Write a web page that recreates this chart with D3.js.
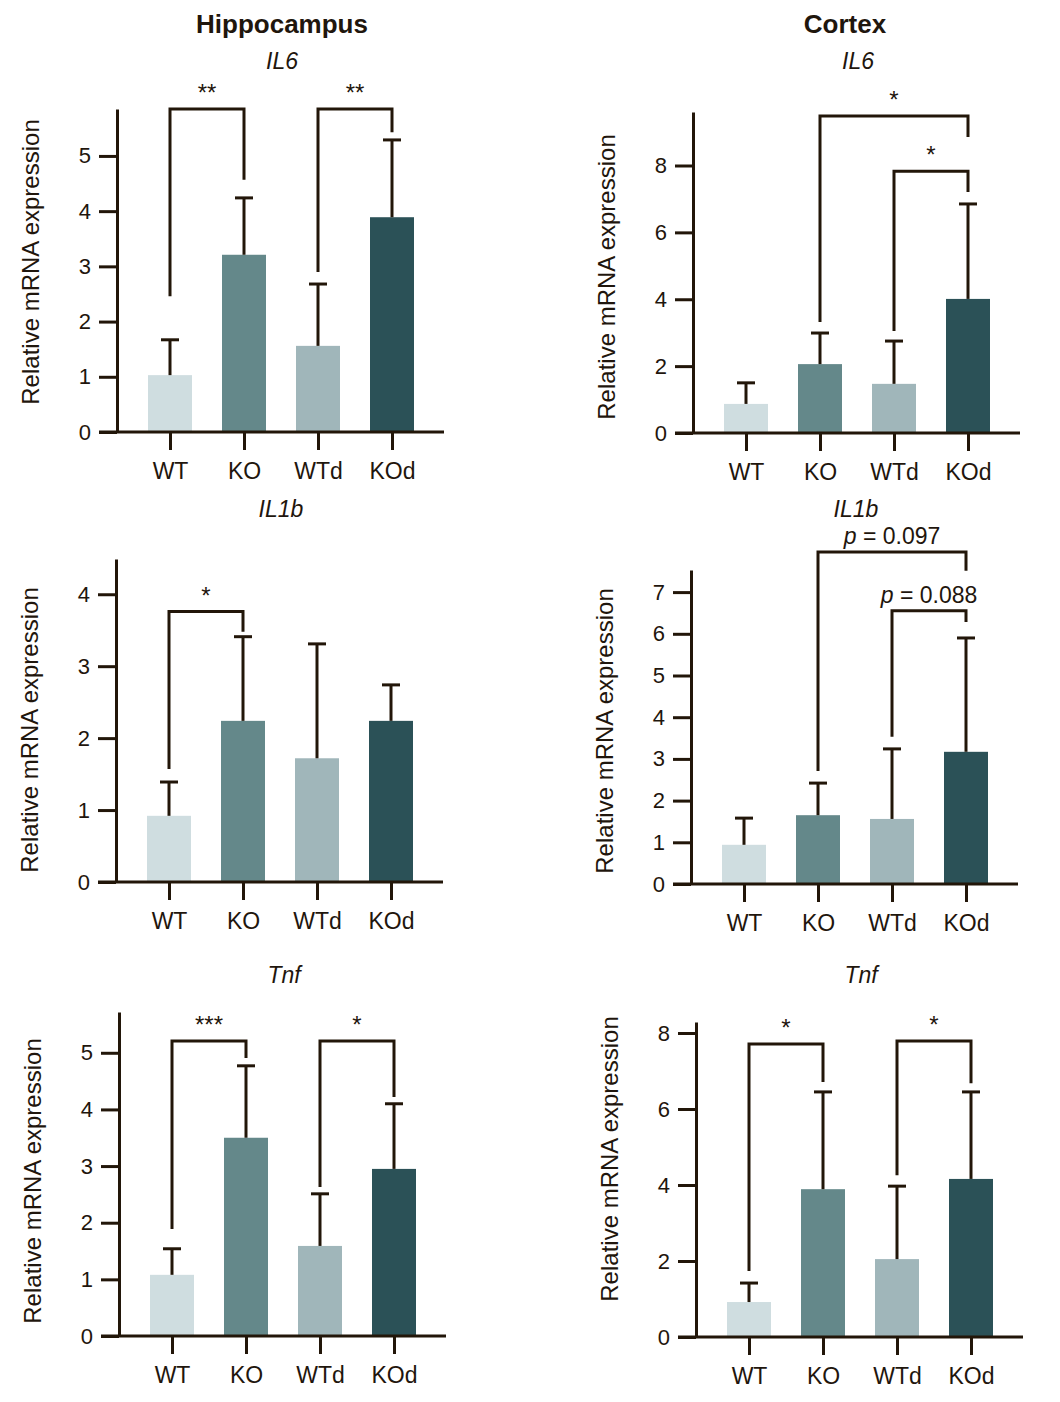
<!DOCTYPE html>
<html>
<head>
<meta charset="utf-8">
<script src="https://cdn.jsdelivr.net/npm/d3@7"></script>
<style>
  body { margin: 0; background: #fff; }
  text { font-family: "Liberation Sans", Arial, Helvetica, sans-serif; fill: #1f160d; }
</style>
</head>
<body>
<div id="main"></div>
<script>
// groups and regions
const groups = ['WT', 'KO', 'WTd', 'KOd'];
const regions = ['Hippocampus', 'Cortex'];
const genes = ['IL6', 'IL1b', 'Tnf'];

// mean and SD (upper error bar) per panel
const hipIL6Mean = [1.03, 3.21, 1.56, 3.89];
const hipIL6Sd = [0.64, 1.03, 1.12, 1.40];
const ctxIL6Mean = [0.87, 2.06, 1.47, 4.01];
const ctxIL6Sd = [0.63, 0.93, 1.28, 2.84];
const hipIL1bMean = [0.92, 2.24, 1.72, 2.24];
const hipIL1bSd = [0.47, 1.17, 1.59, 0.50];
const ctxIL1bMean = [0.94, 1.65, 1.56, 3.17];
const ctxIL1bSd = [0.64, 0.77, 1.68, 2.73];
const hipTnfMean = [1.08, 3.50, 1.59, 2.95];
const hipTnfSd = [0.46, 1.27, 0.92, 1.15];
const ctxTnfMean = [0.92, 3.89, 2.05, 4.16];
const ctxTnfSd = [0.50, 2.56, 1.92, 2.29];

// y axis max and ticks per panel
const hipIL6Ticks = [0, 1, 2, 3, 4, 5];
const ctxIL6Ticks = [0, 2, 4, 6, 8];
const hipIL1bTicks = [0, 1, 2, 3, 4];
const ctxIL1bTicks = [0, 1, 2, 3, 4, 5, 6, 7];
const hipTnfTicks = [0, 1, 2, 3, 4, 5];
const ctxTnfTicks = [0, 2, 4, 6, 8];
const yMaxes = [5.85, 9.6, 4.49, 7.53, 5.72, 8.29];

// significance brackets: from/to group, bracket top, left and right leg ends (data units)
const hipIL6Brackets = [
  { from: 'WT', to: 'KO', top: 5.85, left: 2.46, right: 4.57, label: '**' },
  { from: 'WTd', to: 'KOd', top: 5.85, left: 2.90, right: 5.43, label: '**' }
];
const ctxIL6Brackets = [
  { from: 'KO', to: 'KOd', top: 9.48, left: 3.32, right: 8.85, label: '*' },
  { from: 'WTd', to: 'KOd', top: 7.83, left: 3.05, right: 7.21, label: '*' }
];
const hipIL1bBrackets = [
  { from: 'WT', to: 'KO', top: 3.76, left: 1.57, right: 3.48, label: '*' }
];
const ctxIL1bBrackets = [
  { from: 'KO', to: 'KOd', top: 7.96, left: 2.71, right: 7.51, p: '0.097' },
  { from: 'WTd', to: 'KOd', top: 6.55, left: 3.53, right: 6.28, p: '0.088' }
];
const hipTnfBrackets = [
  { from: 'WT', to: 'KO', top: 5.21, left: 1.89, right: 4.91, label: '***' },
  { from: 'WTd', to: 'KOd', top: 5.21, left: 2.63, right: 4.22, label: '*' }
];
const ctxTnfBrackets = [
  { from: 'WT', to: 'KO', top: 7.71, left: 1.74, right: 6.71, label: '*' },
  { from: 'WTd', to: 'KOd', top: 7.79, left: 4.26, right: 6.68, label: '*' }
];

const colors = ['#cfdde0', '#64888a', '#a0b6ba', '#2b5157'];
const ink = '#221609';

// panel placement on the page
const layout = [
  { axisX: 117, zeroY: 432, topY: 109, labelY: 262 },
  { axisX: 693, zeroY: 433, topY: 112, labelY: 277 },
  { axisX: 116, zeroY: 882, topY: 559, labelY: 730 },
  { axisX: 691, zeroY: 884, topY: 570, labelY: 731 },
  { axisX: 119, zeroY: 1336, topY: 1012, labelY: 1181 },
  { axisX: 696, zeroY: 1337, topY: 1022, labelY: 1159 }
];
const titleY = [69, 517, 983];

const panels = [
  { gene: genes[0], mean: hipIL6Mean, sd: hipIL6Sd, ticks: hipIL6Ticks, brackets: hipIL6Brackets },
  { gene: genes[0], mean: ctxIL6Mean, sd: ctxIL6Sd, ticks: ctxIL6Ticks, brackets: ctxIL6Brackets },
  { gene: genes[1], mean: hipIL1bMean, sd: hipIL1bSd, ticks: hipIL1bTicks, brackets: hipIL1bBrackets },
  { gene: genes[1], mean: ctxIL1bMean, sd: ctxIL1bSd, ticks: ctxIL1bTicks, brackets: ctxIL1bBrackets },
  { gene: genes[2], mean: hipTnfMean, sd: hipTnfSd, ticks: hipTnfTicks, brackets: hipTnfBrackets },
  { gene: genes[2], mean: ctxTnfMean, sd: ctxTnfSd, ticks: ctxTnfTicks, brackets: ctxTnfBrackets }
];

const svg = d3.select('#main')
  .append('svg')
  .attr('width', 1060)
  .attr('height', 1402);

// region headers
svg.selectAll('text.region')
  .data(regions)
  .join('text')
  .attr('class', 'region')
  .attr('x', (d, i) => i === 0 ? 282 : 845)
  .attr('y', 33)
  .attr('text-anchor', 'middle')
  .attr('font-size', 26)
  .attr('font-weight', 'bold')
  .text(d => d);

const barW = 44;

function drawPanel(panel, i) {
  const L = layout[i];
  const g = svg.append('g');
  const y = d3.scaleLinear().domain([0, yMaxes[i]]).range([L.zeroY, L.topY]);
  const x = d3.scalePoint().domain(groups).range([L.axisX + 53, L.axisX + 275]);

  // gene title
  g.append('text')
    .attr('x', L.axisX + 165)
    .attr('y', titleY[Math.floor(i / 2)])
    .attr('text-anchor', 'middle')
    .attr('font-size', 23)
    .attr('font-style', 'italic')
    .text(panel.gene);

  // bars
  g.selectAll('rect.bar')
    .data(panel.mean)
    .join('rect')
    .attr('class', 'bar')
    .attr('x', (d, j) => x(groups[j]) - barW / 2)
    .attr('y', d => y(d))
    .attr('width', barW)
    .attr('height', d => y(0) - y(d))
    .attr('fill', (d, j) => colors[j]);

  // error bars (upper only)
  const err = g.selectAll('g.err')
    .data(panel.mean)
    .join('g')
    .attr('class', 'err')
    .attr('stroke', ink)
    .attr('stroke-width', 3);
  err.append('line')
    .attr('x1', (d, j) => x(groups[j]))
    .attr('x2', (d, j) => x(groups[j]))
    .attr('y1', d => y(d))
    .attr('y2', (d, j) => y(d + panel.sd[j]));
  err.append('line')
    .attr('x1', (d, j) => x(groups[j]) - 9)
    .attr('x2', (d, j) => x(groups[j]) + 9)
    .attr('y1', (d, j) => y(d + panel.sd[j]))
    .attr('y2', (d, j) => y(d + panel.sd[j]));

  // y axis
  const yAxis = d3.axisLeft(y)
    .tickValues(panel.ticks)
    .tickFormat(d3.format('d'))
    .tickSize(18)
    .tickSizeOuter(0)
    .tickPadding(8);
  const ya = g.append('g')
    .attr('transform', `translate(${L.axisX},0)`)
    .call(yAxis);
  ya.selectAll('path, line').attr('stroke', ink).attr('stroke-width', 3);
  ya.selectAll('text').attr('font-size', 22).attr('font-family', null).attr('fill', null);

  // x axis
  const xAxis = d3.axisBottom(x).tickSize(18).tickPadding(13);
  const xa = g.append('g')
    .attr('transform', `translate(0,${L.zeroY})`)
    .call(xAxis);
  xa.select('.domain').remove();
  xa.selectAll('line').attr('stroke', ink).attr('stroke-width', 3);
  xa.selectAll('text').attr('font-size', 23).attr('font-family', null).attr('fill', null);
  xa.append('line')
    .attr('x1', L.axisX - 18)
    .attr('x2', L.axisX + 327)
    .attr('stroke', ink)
    .attr('stroke-width', 3);

  // axis title
  g.append('text')
    .attr('transform', `translate(${L.axisX - 78},${L.labelY}) rotate(-90)`)
    .attr('text-anchor', 'middle')
    .attr('font-size', 24)
    .text('Relative mRNA expression');

  // brackets
  panel.brackets.forEach(b => {
    const x0 = x(b.from), x1 = x(b.to);
    g.append('path')
      .attr('d', `M${x0},${y(b.left)}V${y(b.top)}H${x1}V${y(b.right)}`)
      .attr('fill', 'none')
      .attr('stroke', ink)
      .attr('stroke-width', 3);
    if (b.label) {
      g.append('text')
        .attr('x', (x0 + x1) / 2)
        .attr('y', y(b.top) - 8)
        .attr('text-anchor', 'middle')
        .attr('font-size', 24)
        .text(b.label);
    } else {
      const t = g.append('text')
        .attr('x', (x0 + x1) / 2)
        .attr('y', y(b.top) - 8)
        .attr('text-anchor', 'middle')
        .attr('font-size', 23);
      t.append('tspan').attr('font-style', 'italic').text('p');
      t.append('tspan').text(' = ' + b.p);
    }
  });
}

panels.forEach(drawPanel);
</script>
</body>
</html>
